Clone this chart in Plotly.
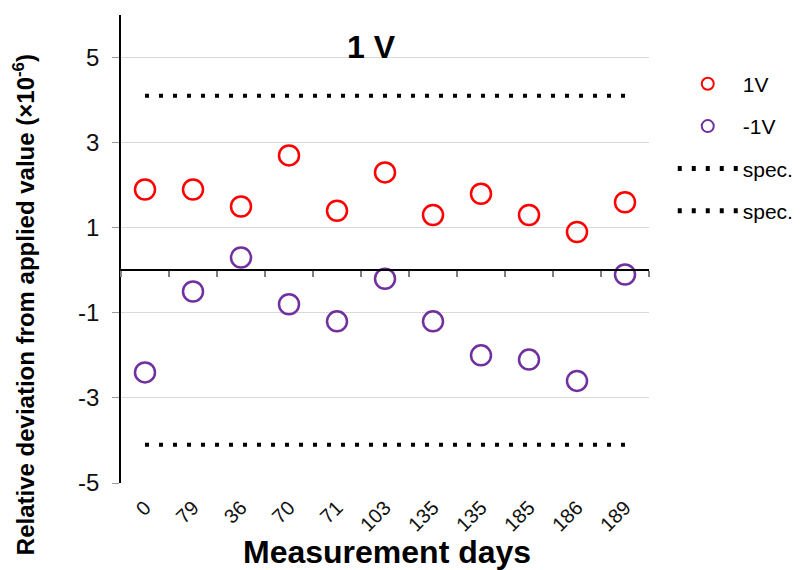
import plotly.graph_objects as go

days = ["0", "79", "36", "70", "71", "103", "135", "135", "185", "186", "189"]
pos_1v = [1.9, 1.9, 1.5, 2.7, 1.4, 2.3, 1.3, 1.8, 1.3, 0.9, 1.6]
neg_1v = [-2.4, -0.5, 0.3, -0.8, -1.2, -0.2, -1.2, -2.0, -2.1, -2.6, -0.1]
spec_upper = [4.1] * len(days)
spec_lower = [-4.1] * len(days)
y_ticks = [5, 3, 1, -1, -3, -5]

idx = list(range(len(days)))
FONT = "Arial, Liberation Sans, sans-serif"

fig = go.Figure()
fig.add_trace(go.Scatter(x=idx, y=pos_1v, mode="markers", name="1V", legendgroup="a",
                         marker=dict(symbol="circle-open", size=20, color="#FF0000",
                                     line=dict(width=2.5, color="#FF0000"))))
fig.add_trace(go.Scatter(x=idx, y=neg_1v, mode="markers", name="-1V", legendgroup="b",
                         marker=dict(symbol="circle-open", size=20, color="#7030A0",
                                     line=dict(width=2.5, color="#7030A0"))))
fig.add_trace(go.Scatter(x=idx, y=spec_upper, mode="lines", name="spec.", legendgroup="c",
                         line=dict(color="black", width=4, dash="4px,10px")))
fig.add_trace(go.Scatter(x=idx, y=spec_lower, mode="lines", name="spec.", legendgroup="d",
                         line=dict(color="black", width=4, dash="4px,10px")))
# carrier for the zero-crossing category axis
fig.add_trace(go.Scatter(x=[None], y=[None], xaxis="x2", showlegend=False, hoverinfo="skip"))

boundaries = [i - 0.5 for i in range(len(days) + 1)]

# the page body adds an 8px offset, so the figure is drawn 8px smaller and margins shifted
fig.update_layout(
    width=793, height=562,
    margin=dict(l=113, r=152, t=7, b=87, autoexpand=False),
    paper_bgcolor="white", plot_bgcolor="white",
    font=dict(family=FONT, color="black"),
    showlegend=True,
    legend=dict(x=1.045, xanchor="left", y=0.896, yanchor="top",
                font=dict(size=21, family=FONT, color="black"),
                traceorder="grouped", tracegroupgap=12, itemwidth=60,
                itemsizing="constant",
                bgcolor="rgba(0,0,0,0)"),
    xaxis=dict(range=[-0.5, len(days) - 0.5], tickmode="array", tickvals=idx, ticktext=days,
               tickangle=-45, tickfont=dict(size=20, color="#111"), showline=False,
               showgrid=False, zeroline=False, ticks="", ticklabelstandoff=8),
    xaxis2=dict(range=[-0.5, len(days) - 0.5], overlaying="x", anchor="free",
                position=5 / 11, side="bottom", showline=True, linecolor="black", linewidth=1.5,
                tickmode="array", tickvals=boundaries, ticks="outside", ticklen=6,
                tickcolor="#808080", tickwidth=1.5, showticklabels=False, showgrid=False,
                zeroline=False),
    yaxis=dict(range=[-5, 6], tickmode="array", tickvals=y_ticks,
               ticktext=[str(v) for v in y_ticks],
               tickfont=dict(size=24, color="#111"), showline=True, linecolor="black",
               linewidth=1.5, ticks="outside", ticklen=7, tickcolor="#999",
               ticklabelstandoff=8,
               showgrid=True, gridcolor="#d9d9d9", gridwidth=1, zeroline=False),
    annotations=[
        dict(text="<b>1 V</b>", xref="paper", yref="paper", x=0.475, y=0.9316,
             xanchor="center", yanchor="middle", showarrow=False,
             font=dict(size=32, family=FONT, color="black")),
        dict(text="<b>Measurement days</b>", xref="paper", yref="paper", x=0.503, y=-0.147,
             xanchor="center", yanchor="middle", showarrow=False,
             font=dict(size=32, family=FONT, color="black")),
        dict(text="<b>Relative deviation from applied value (×10<sup>-6</sup>)</b>",
             xref="paper", yref="paper", x=-(121 - 24) / 528, y=0.38, textangle=-90,
             xanchor="center", yanchor="middle", showarrow=False,
             font=dict(size=24, family=FONT, color="black")),
    ],
)

fig.write_html("out.html")
